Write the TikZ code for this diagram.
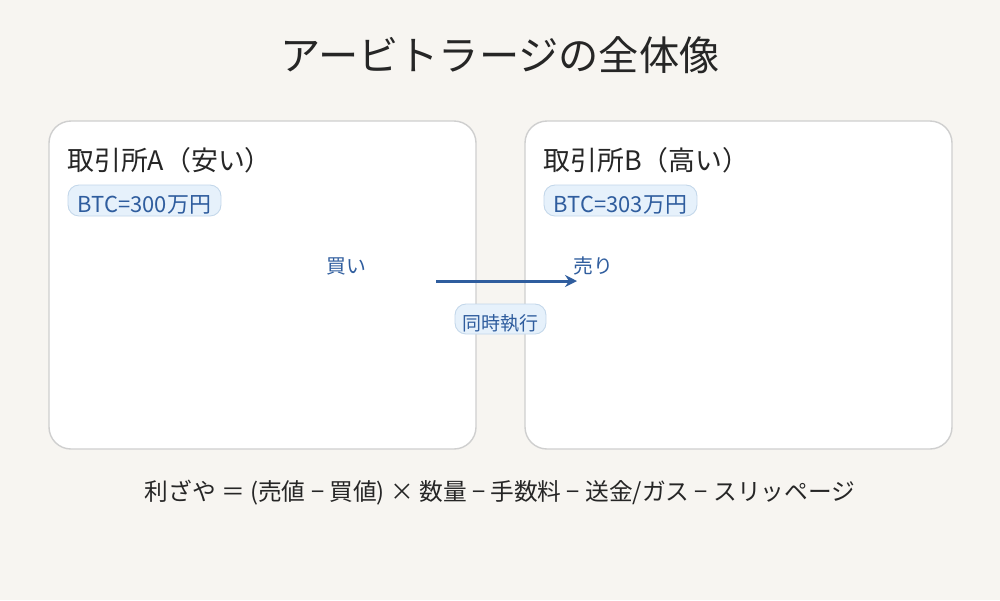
\documentclass[tikz,border=0pt]{standalone}
\usepackage{fontspec}
\setmainfont{Noto Sans CJK JP}
\usetikzlibrary{positioning, arrows.meta}
\definecolor{bgcream}{HTML}{F7F5F1}
\definecolor{boxgray}{HTML}{CFCFCF}
\definecolor{pillfill}{HTML}{E6F1FB}
\definecolor{pillline}{HTML}{C3D7EA}
\definecolor{inkblue}{HTML}{2F5D9E}
\definecolor{inkdark}{HTML}{262626}

\begin{document}
\begin{tikzpicture}[x=0.02cm, y=-0.02cm, >={Stealth[length=6.8pt, width=6.8pt]}]
    \tikzset{
        exchbox/.style={draw=boxgray, line width=0.8pt, fill=white, rounded corners=0.44cm},
        pricepill/.style={draw=pillline, line width=0.5pt, fill=pillfill, rounded corners=0.22cm,
            text=inkblue, font=\fontsize{12.5}{14}\selectfont, inner sep=0pt,
            text height=1.32em, text depth=0pt, minimum width=3.06cm, minimum height=0.62cm},
        headtext/.style={text=inkdark, font=\fontsize{15.3}{18}\selectfont, anchor=west, inner sep=0pt},
        sidetext/.style={text=inkblue, font=\fontsize{11.3}{13}\selectfont, inner sep=0pt}
    }
    % Background
    \fill[bgcream] (0,0) rectangle (1000,600);
    \useasboundingbox (0,0) rectangle (1000,600);

    % Title
    \node[text=inkdark, font=\fontsize{22.9}{27}\selectfont] (title) at (500,55) {アービトラージの全体像};

    % Exchanges
    \draw[exchbox] (49,121) rectangle (476,449);
    \draw[exchbox] (525,121) rectangle (952,449);
    \node[headtext] (headA) at (67,160) {取引所A（安い）};
    \node[headtext] (headB) at (543,160) {取引所B（高い）};
    \node[pricepill] (priceA) at (144.5,200.5) {BTC=300万円};
    \node[pricepill] (priceB) at (620.5,200.5) {BTC=303万円};

    % Buy and sell
    \node[sidetext] (buy) at (346,266) {買い};
    \node[sidetext] (sell) at (593,266) {売り};
    \coordinate (buyend) at (436,281);
    \coordinate (sellend) at (577,281);
    \draw[->, inkblue, line width=1.7pt] (buyend) -- (sellend);
    \node[pricepill, font=\fontsize{10.8}{12}\selectfont, text height=1.35em,
        minimum width=1.82cm, minimum height=0.6cm] (sync) at (500.5,319) {同時執行};

    % Profit formula
    \node[text=inkdark, font=\fontsize{13.5}{16}\selectfont] (profit) at (500,493)
        {利ざや ＝ (売値 − 買値) × 数量 − 手数料 − 送金/ガス − スリッページ};
\end{tikzpicture}
\end{document}
